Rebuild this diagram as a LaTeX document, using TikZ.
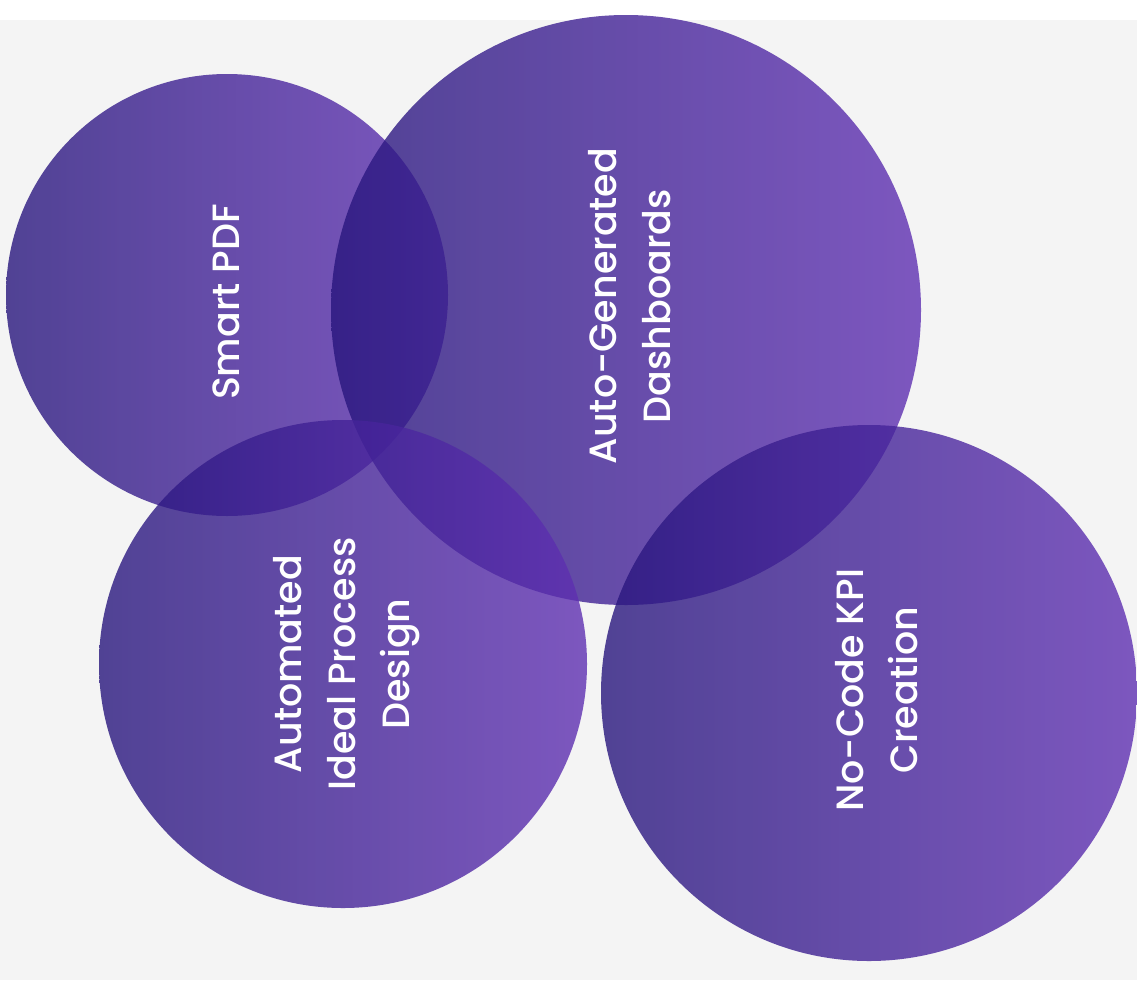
\documentclass[tikz,border=0pt]{standalone}
\usepackage{fontspec}
\setmainfont{Poppins}
\newfontfamily\lblfont{Poppins Medium}
\definecolor{bggray}{RGB}{244,244,244}
\definecolor{pleft}{RGB}{40,22,125}
\definecolor{pright}{RGB}{95,48,178}
\tikzset{
  bubble/.style={circle, draw=none, inner sep=0pt, left color=pleft, right color=pright, fill opacity=0.8},
  label/.style={rotate=90, text=white, align=center, font=\lblfont\fontsize{38}{54}\selectfont, inner sep=0pt}
}
\begin{document}
\begin{tikzpicture}[x=1pt,y=-1pt]
\useasboundingbox (0,0) rectangle (1137,980);
\fill[white] (0,0) rectangle (1137,20);
\fill[bggray] (0,20) rectangle (1137,980);
\begin{scope}
\clip (0,0) rectangle (1137,980);
\node[bubble, minimum size=442pt] (c1) at (227,295) {};
\node[bubble, minimum size=590pt] (c2) at (626,310) {};
\node[bubble, minimum size=488pt] (c3) at (343,664) {};
\node[bubble, minimum size=536pt] (c4) at (869,693) {};
\end{scope}
\node[label] (t1) at (226,302) {Smart PDF};
\node[label] (t2) at (630,306) {Auto-Generated\\Dashboards};
\node[label] (t3) at (347,664) {Automated\\Ideal Process\\Design};
\node[label] (t4) at (877,690) {No-Code KPI\\Creation};
\end{tikzpicture}
\end{document}
